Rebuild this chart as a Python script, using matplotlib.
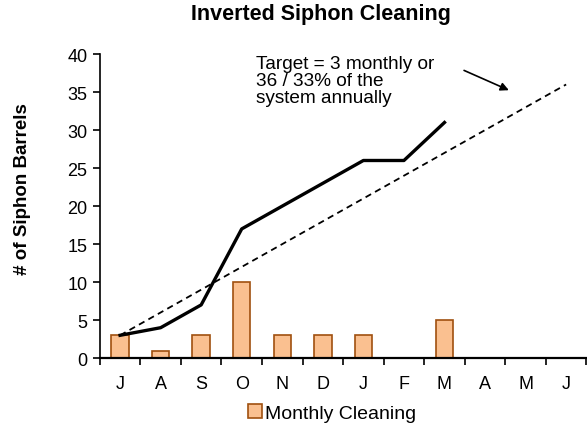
import matplotlib.pyplot as plt
import numpy as np

plt.rcParams['font.family'] = ['Liberation Sans', 'DejaVu Sans']

months = ['J', 'A', 'S', 'O', 'N', 'D', 'J', 'F', 'M', 'A', 'M', 'J']
monthly = [3, 1, 3, 10, 3, 3, 3, 0, 5, 0, 0, 0]
cumulative = [3, 4, 7, 17, 20, 23, 26, 26, 31]
target = [3, 6, 9, 12, 15, 18, 21, 24, 27, 30, 33, 36]

fig = plt.figure(figsize=(5.87, 4.27), dpi=100)
ax = fig.add_axes([0.170, 0.159, 0.829, 0.712])

x = np.arange(len(months))
ax.bar(x, monthly, width=0.43, color='#FAC090', edgecolor='#A0500F',
       linewidth=1.2, label='Monthly Cleaning', zorder=2)
ax.plot(x[[0, -1]], [target[0], target[-1]], color='black', lw=1.3,
        ls=(0, (3.5, 2.5)), zorder=3)
ax.plot(x[:len(cumulative)], cumulative, color='black', lw=2.4, zorder=4)

ax.annotate('', xy=(9.65, 35.1), xytext=(8.42, 38.0),
            arrowprops=dict(arrowstyle='-|>', color='black', lw=1.2,
                            mutation_scale=12))
ax.text(3.36, 39.9, 'Target = 3 monthly or\n36 / 33% of the\nsystem annually',
        fontsize=13.7, va='top', ha='left', linespacing=1.0)

ax.set_xlim(-0.5, 11.5)
ax.set_ylim(0, 40)
ax.set_yticks(range(0, 41, 5))
ax.set_xticks(x)
ax.set_xticklabels(months, fontsize=13)
ax.set_xticks(np.arange(-0.5, 11.6, 1), minor=True)
ax.tick_params(axis='x', which='major', length=0, pad=12)
ax.tick_params(axis='x', which='minor', length=5, direction='out', width=1.2)
ax.tick_params(axis='y', labelsize=13, length=5, width=1.2, direction='out', pad=4)
ax.spines['top'].set_visible(False)
ax.spines['right'].set_visible(False)
ax.spines['left'].set_linewidth(1.2)
ax.spines['bottom'].set_linewidth(1.6)

ax.set_ylabel('# of Siphon Barrels', fontsize=13.5, fontweight='bold')
ax.yaxis.set_label_coords(-0.142, 0.56)
fig.text(0.547, 0.99, 'Inverted Siphon Cleaning', fontsize=15.5,
         fontweight='bold', ha='center', va='top')

fig.legend(loc='center', bbox_to_anchor=(0.566, 0.03), frameon=False,
           fontsize=14, handlelength=0.7, handleheight=0.7, handletextpad=0.2,
           borderpad=0)

plt.savefig('out.png', dpi=100)
